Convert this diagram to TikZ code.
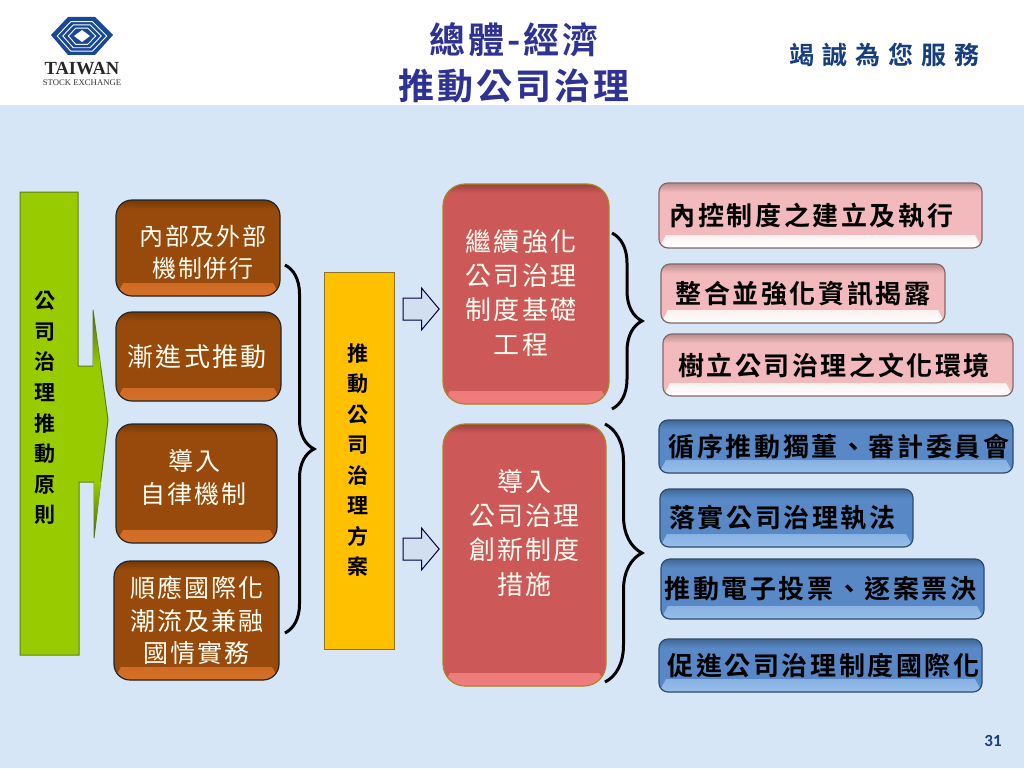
\documentclass[tikz,border=0pt]{standalone}
\usepackage{fontspec}
\setmainfont{Noto Sans CJK TC}[BoldFont={Noto Sans CJK TC Bold}]
\newfontfamily\tccjk{Noto Sans CJK TC}[LetterSpace=8,BoldFont={Noto Sans CJK TC Bold}]
\newfontfamily\tcblack{Noto Sans CJK TC}[LetterSpace=10,BoldFont={Noto Sans CJK TC Bold}]
\newfontfamily\tcwide{Noto Sans CJK TC}[LetterSpace=32,BoldFont={Noto Sans CJK TC Bold}]
\newfontfamily\logofont{Liberation Serif}
\newfontfamily\pagefont{Carlito}
\usetikzlibrary{positioning}
\usetikzlibrary{decorations.pathreplacing}
\usetikzlibrary{shapes.arrows}
\definecolor{slidebg}{RGB}{215,230,247}
\definecolor{titleblue}{RGB}{46,50,146}
\definecolor{logoblue}{RGB}{24,72,150}
\definecolor{slogan}{RGB}{22,62,125}
\definecolor{leafgreen}{RGB}{153,204,0}
\definecolor{oliveedge}{RGB}{98,125,20}
\definecolor{signyellow}{RGB}{255,192,0}
\definecolor{mudedge}{RGB}{140,115,40}
\definecolor{brownfill}{RGB}{152,74,12}
\definecolor{brownlight}{RGB}{214,112,40}
\definecolor{redfill}{RGB}{205,88,88}
\definecolor{redlight}{RGB}{240,125,125}
\definecolor{pinkfill}{RGB}{242,186,188}
\definecolor{bluefill}{RGB}{88,137,198}
\definecolor{bluelight}{RGB}{150,190,235}
\begin{document}
\begin{tikzpicture}[x=1pt,y=-1pt,  node distance=16pt,
  bevel/.style n args={4}{
    rounded corners=#4,
    fill=#1,
    draw=#2,
    outer sep=0pt,
    path picture={
      \shade[sharp corners, top color=#1, bottom color=#3]
        (path picture bounding box.south west) -- (path picture bounding box.south east)
        -- ([xshift=-7pt,yshift=13pt]path picture bounding box.south east)
        -- ([xshift=7pt,yshift=13pt]path picture bounding box.south west) -- cycle;
      \shade[sharp corners, top color=#1!75!black, bottom color=#1]
        (path picture bounding box.north west) rectangle ([yshift=-9pt]path picture bounding box.north east);
    }
  },
  brownbox/.style={
    bevel={brownfill}{black!85}{brownlight}{16pt},
    line width=1.2pt,
    align=center,
    text=white!95!yellow,
    font=\tccjk\fontsize{25}{32.5}\selectfont
  },
  redbox/.style={
    bevel={redfill}{olive!60!redfill}{redlight}{22pt},
    line width=1.2pt,
    align=center,
    text=white!95!yellow,
    font=\tccjk\fontsize{26}{34.2}\selectfont
  },
  pinkbox/.style={
    bevel={pinkfill}{black!45!pinkfill}{white}{9pt},
    line width=1.2pt,
    inner xsep=0pt,
    text=black,
    font=\tcblack\bfseries\fontsize{26}{30}\selectfont
  },
  bluebox/.style={
    bevel={bluefill}{black!45!bluefill}{bluelight}{9pt},
    line width=1.2pt,
    inner xsep=0pt,
    text=black,
    font=\tcblack\bfseries\fontsize{26}{30}\selectfont
  },
  columntext/.style={
    align=center,
    font=\bfseries\fontsize{21}{30.6}\selectfont
  },
  hollowarrow/.style={
    shape=single arrow,
    draw=black!75!blue,
    fill=black!3!slidebg,
    line width=1pt,
    inner xsep=0pt,
    inner ysep=10.5pt,
    minimum width=41pt,
    minimum height=36pt,
    single arrow head extend=10pt,
    single arrow tip angle=100
  },
  bracket/.style={
    decorate,
    decoration={brace,amplitude=#1},
    line width=3pt,
    black
  }
]
	% Background
	\useasboundingbox (0,0) rectangle (1024,768);
	\fill[white] (0,0) rectangle (1024,105);
	\fill[slidebg] (0,105) rectangle (1024,768);
	% Logo
	\fill[logoblue] (51,35) -- (68,17) -- (95,17) -- (113,35) -- (95,55) -- (68,55) -- cycle;
	\foreach \s in {.8,.62,.44} {
		\draw[white, line width=.9pt, shift={(82,36)}, scale=\s]
			(-31,0) -- (-14,-18) -- (13,-18) -- (31,0) -- (13,19) -- (-14,19) -- cycle;
	}
	\fill[white] (74,36) -- (82,30) -- (90,36) -- (82,42) -- cycle;
	\node[font=\logofont\bfseries\fontsize{18.5}{20}\selectfont, inner sep=0pt, text=black!85] (logoname) at (82,69) {TAIWAN};
	\node[font=\logofont\fontsize{8.7}{10}\selectfont, inner sep=0pt, text=black!80] (logosub) at (82,83) {STOCK EXCHANGE};
	% Titles
	\node[align=center, text=titleblue, font=\bfseries\fontsize{36}{46}\selectfont\tccjk] (title) at (514,63) {總體-經濟\\推動公司治理};
	\node[text=slogan, font=\tcwide\bfseries\fontsize{25}{28}\selectfont] (motto) at (884,55) {竭誠為您服務};
	\node[text=slogan, font=\pagefont\bfseries\fontsize{17}{20}\selectfont] (pagenum) at (993,741) {31};
	% Green column
	\path[fill=leafgreen, draw=oliveedge, line width=1pt] (20,192) -- (78,192) -- (78,366) -- (93,366) -- (93,310) -- (108,420)
		-- (94,538) -- (94,482) -- (79,482) -- (79,655) -- (20,655) -- cycle;
	\shade[top color=oliveedge!80!black, bottom color=leafgreen] (93,310) -- (93,366) -- (100.5,366) -- cycle;
	\shade[top color=leafgreen, bottom color=oliveedge!80!black] (94,538) -- (94,482) -- (101,482) -- cycle;
	\node[columntext] (principle) at (45,408) {公\\司\\治\\理\\推\\動\\原\\則};
	% Brown nodes
	\node[brownbox, font=\tccjk\fontsize{24}{32.5}\selectfont, anchor=north west, minimum width=164pt, minimum height=96pt] (mech) at (116,200) {\mbox{}\\[-3.5pt]\hspace*{10pt}內部及外部\\\hspace*{10pt}機制併行};
	\node[brownbox, font=\tccjk\fontsize{26}{32.5}\selectfont, below right=16pt and 0pt of mech.south west, minimum width=165pt, minimum height=89pt] (gradual) {\hspace*{-3pt}漸進式推動};
	\node[brownbox, below right=23pt and 0pt of gradual.south west, minimum width=161pt, minimum height=119pt] (selfreg) {\hspace*{-4pt}導入\\\hspace*{-6pt}自律機制\\[-18pt]\mbox{}};
	\node[brownbox, below right=18pt and -2pt of selfreg.south west, minimum width=165pt, minimum height=119pt] (global) {順應國際化\\潮流及兼融\\國情實務};
	% Yellow column
	\node[anchor=north west, fill=signyellow, draw=mudedge, line width=1pt, outer sep=0pt, minimum width=70pt, minimum height=377pt] (plan) at (324,272) {};
	\node[columntext, font=\bfseries\fontsize{21}{30.5}\selectfont] (plantext) at (358,460) {推\\動\\公\\司\\治\\理\\方\\案};
	% Red nodes
	\node[redbox, anchor=north west, minimum width=166pt, minimum height=220pt] (base) at (443,184) {\hspace*{-10pt}繼續強化\\\hspace*{-10pt}公司治理\\\hspace*{-10pt}制度基礎\\\hspace*{-10pt}工程\\[-30pt]\mbox{}};
	\node[redbox, below right=20pt and 0pt of base.south west, minimum width=163pt, minimum height=262pt] (innov) {導入\\公司治理\\創新制度\\措施\\[12pt]\mbox{}};
	% Pink nodes
	\node[pinkbox, anchor=north west, minimum width=323pt, minimum height=65pt] (ctrl) at (659,183) {內控制度之建立及執行\hspace*{18pt}};
	\node[pinkbox, below right=16pt and 2pt of ctrl.south west, minimum width=284pt, minimum height=59pt] (disclose) {整合並強化資訊揭露};
	\node[pinkbox, below right=11pt and 2pt of disclose.south west, minimum width=350pt, minimum height=62pt] (culture) {樹立公司治理之文化環境\hspace*{8pt}};
	% Blue nodes
	\node[bluebox, anchor=north west, minimum width=354pt, minimum height=53pt] (audit) at (659,420) {\hspace*{6pt}循序推動獨董、審計委員會};
	\node[bluebox, below right=16pt and 1pt of audit.south west, minimum width=253pt, minimum height=58pt] (enforce) {落實公司治理執法\hspace*{8pt}};
	\node[bluebox, below right=12pt and 1pt of enforce.south west, minimum width=323pt, minimum height=60pt] (evote) {推動電子投票、逐案票決\hspace*{4pt}};
	\node[bluebox, below right=20pt and -2pt of evote.south west, minimum width=323pt, minimum height=53pt] (intl) {\hspace*{6pt}促進公司治理制度國際化};
	% Arrows
	\node[hollowarrow] (arrowbase) at (416.5,309) {};
	\node[hollowarrow] (arrowinnov) at (416.5,549) {};
	% Braces
	\coordinate (leftA) at (285,265);
	\coordinate (leftB) at (285,633);
	\coordinate (midA) at (612,233);
	\coordinate (midB) at (612,409);
	\coordinate (lowA) at (605,424);
	\coordinate (lowB) at (605,682);
	\draw[bracket=29pt] (leftA) -- (leftB);
	\draw[bracket=30pt] (midA) -- (midB);
	\draw[bracket=37pt] (lowA) -- (lowB);
\end{tikzpicture}
\end{document}
